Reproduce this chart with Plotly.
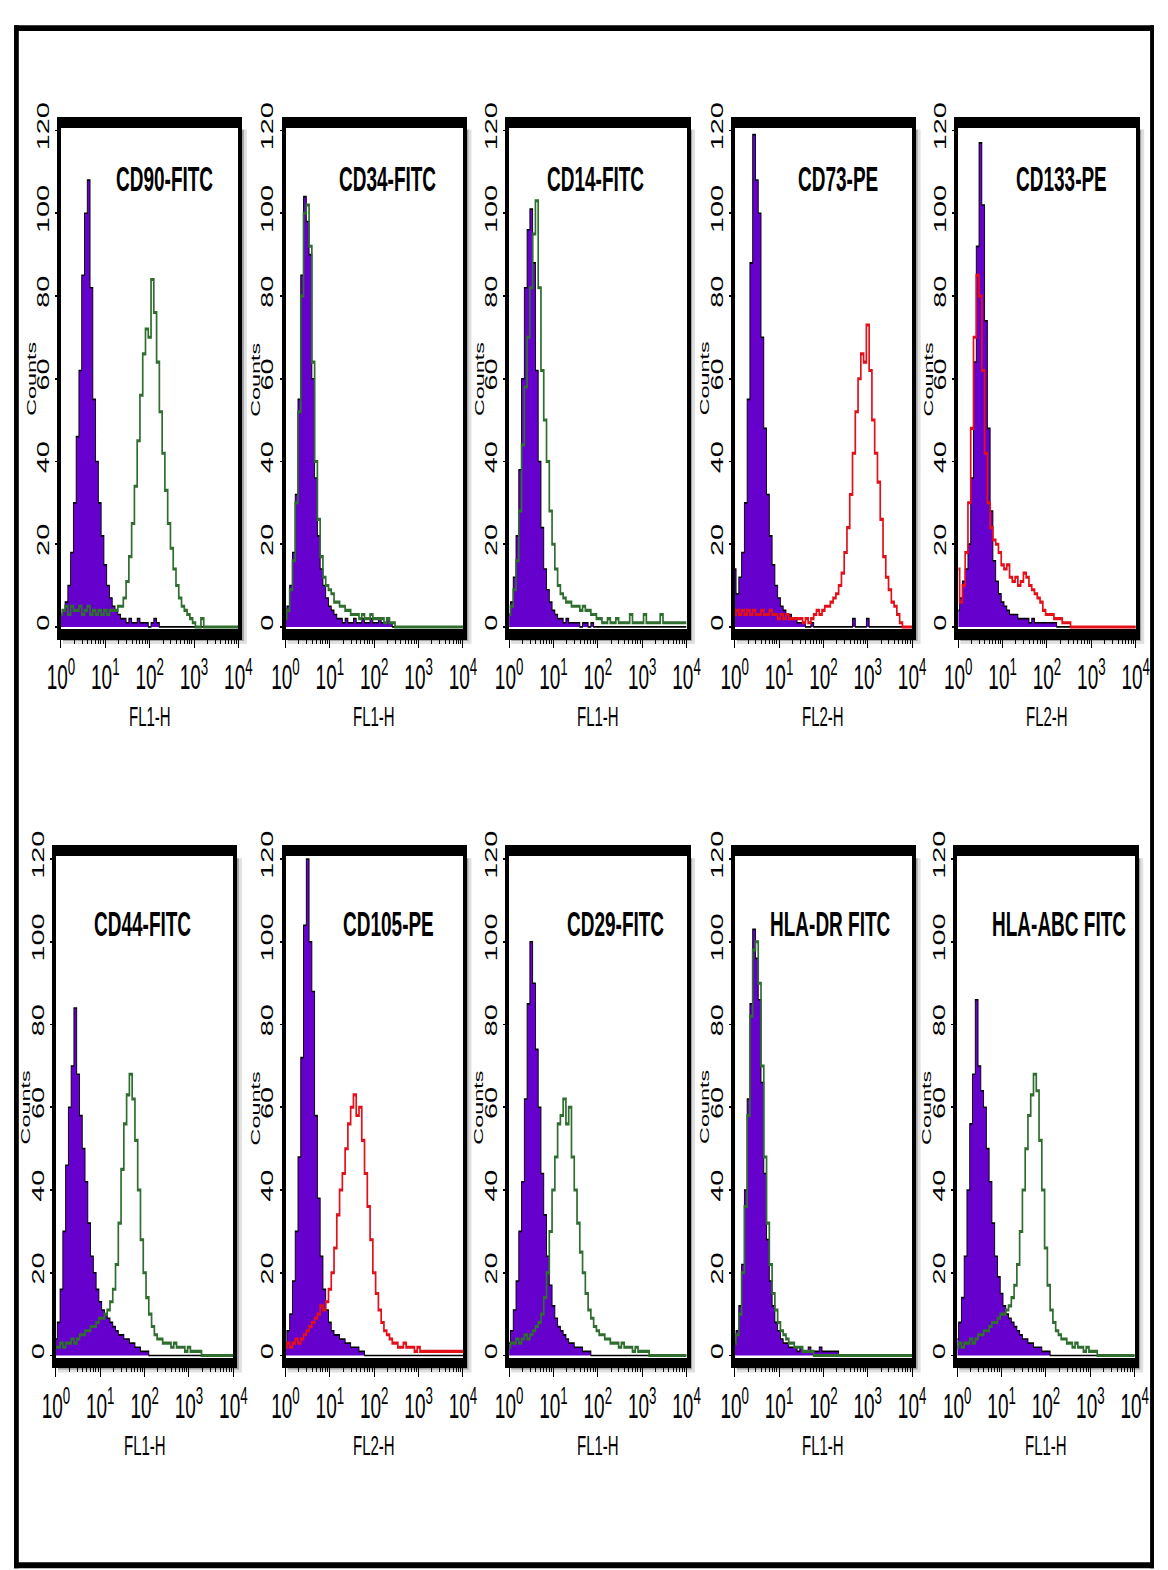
import plotly.graph_objects as go

# ---------------------------------------------------------------------------
# Canvas: the plot is laid out at a reduced height and stretched vertically
# in the page so that text and horizontal strokes get the tall look.
# ---------------------------------------------------------------------------
FIG_W, FIG_H = 1168, 1570
BASE_H = 872
STRETCH = FIG_H / BASE_H

# page placement of the drawing (offset and scale of the photographed page)
PAGE_X0, PAGE_KX = 10.2, 0.9735
PAGE_Y0, PAGE_KY = 24.7, 0.982

# 16 channels per decade over four decades (10^0 .. 10^4)
CHANNEL_DECADE = [c / 16 for c in range(65)]
INTENSITY = [10 ** d for d in CHANNEL_DECADE]

# ---------------------------------------------------------------------------
# Histogram counts per channel (isotype control = filled, stained = line)
# ---------------------------------------------------------------------------
CD90_ISO = [3, 4, 6, 10, 18, 30, 46, 62, 85, 100, 108, 82, 55, 40, 30, 22, 15, 10, 7, 5,
            4, 3, 2, 2, 1, 2, 1, 1, 2, 1, 1, 1, 0, 1, 2, 1, 0, 0, 0, 0,
            0, 0, 0, 0, 0, 0, 0, 0, 0, 0, 0, 0, 0, 0, 0, 0, 0, 0, 0, 0, 0, 0, 0, 0, 0]
CD90_STAIN = [3, 4, 5, 3, 5, 4, 4, 5, 3, 4, 5, 3, 4, 3, 4, 3, 4, 3, 4, 4,
              4, 5, 5, 7, 11, 17, 25, 34, 45, 56, 66, 72, 70, 84, 76, 64, 52, 42, 33, 25,
              19, 14, 10, 7, 5, 4, 3, 2, 1, 0, 0, 2, 0, 0, 0, 0, 0, 0, 0, 0, 0, 0, 0, 0, 0]

CD34_ISO = [2, 5, 10, 18, 32, 55, 85, 104, 98, 90, 60, 36, 22, 14, 10, 7, 5, 4, 3, 2,
            2, 1, 2, 1, 1, 2, 1, 1, 2, 1, 1, 2, 1, 1, 2, 1, 1, 2, 1, 0,
            0, 0, 0, 0, 0, 0, 0, 0, 0, 0, 0, 0, 0, 0, 0, 0, 0, 0, 0, 0, 0, 0, 0, 0, 0]
CD34_STAIN = [2, 4, 9, 16, 30, 52, 80, 100, 102, 92, 64, 40, 26, 17, 12, 10, 9, 8, 6, 6,
              5, 5, 4, 4, 3, 3, 3, 2, 3, 2, 2, 3, 2, 2, 2, 2, 1, 2, 1, 1,
              0, 0, 0, 0, 0, 0, 0, 0, 0, 0, 0, 0, 0, 0, 0, 0, 0, 0, 0, 0, 0, 0, 0, 0, 0]

CD14_ISO = [3, 6, 12, 22, 38, 60, 82, 96, 101, 88, 62, 40, 24, 14, 9, 6, 4, 3, 2, 2,
            1, 2, 1, 1, 1, 1, 0, 1, 1, 0, 1, 0, 0, 0, 0, 0, 0, 0, 0, 0,
            0, 0, 0, 0, 0, 0, 0, 0, 0, 0, 0, 0, 0, 0, 0, 0, 0, 0, 0, 0, 0, 0, 0, 0, 0]
CD14_STAIN = [3, 5, 9, 16, 28, 44, 58, 70, 82, 95, 103, 82, 62, 50, 40, 28, 20, 14, 10, 8,
              7, 6, 6, 5, 5, 5, 4, 5, 4, 4, 3, 3, 2, 2, 1, 1, 2, 1, 1, 2,
              1, 1, 1, 1, 3, 1, 1, 1, 1, 3, 1, 1, 1, 1, 1, 3, 1, 1, 1, 1, 1, 1, 1, 1, 1]

CD73_ISO = [14, 8, 12, 18, 30, 55, 88, 119, 108, 100, 70, 48, 32, 22, 15, 10, 7, 5, 4, 3,
            3, 2, 2, 1, 1, 1, 0, 0, 1, 0, 0, 0, 0, 0, 0, 0, 0, 0, 0, 0,
            0, 0, 0, 2, 0, 0, 0, 0, 2, 0, 0, 0, 0, 0, 0, 0, 0, 0, 0, 0, 0, 0, 0, 0, 0]
CD73_STAIN = [3, 4, 3, 4, 3, 4, 3, 4, 3, 3, 4, 3, 3, 4, 3, 3, 2, 3, 2, 3,
              2, 2, 2, 2, 2, 1, 2, 1, 2, 3, 4, 3, 4, 5, 5, 6, 7, 8, 10, 13,
              18, 24, 32, 42, 52, 60, 66, 64, 73, 62, 50, 42, 35, 26, 17, 12, 9, 6, 5, 3,
              1, 0, 0, 0, 0]

CD133_ISO = [4, 7, 11, 14, 20, 36, 64, 92, 117, 102, 74, 48, 28, 16, 11, 8, 6, 5, 4, 3,
             3, 3, 2, 2, 2, 2, 1, 2, 1, 1, 1, 1, 1, 1, 1, 1, 0, 0, 0, 0,
             0, 0, 0, 0, 0, 0, 0, 0, 0, 0, 0, 0, 0, 0, 0, 0, 0, 0, 0, 0, 0, 0, 0, 0, 0]
CD133_STAIN = [14, 6, 10, 18, 30, 48, 70, 85, 80, 62, 42, 30, 24, 21, 20, 18, 15, 14, 15, 12,
               11, 12, 10, 11, 13, 12, 10, 9, 8, 7, 6, 4, 3, 3, 3, 2, 2, 2, 1, 1,
               1, 0, 0, 0, 0, 0, 0, 0, 0, 0, 0, 0, 0, 0, 0, 0, 0, 0, 0, 0, 0, 0, 0, 0, 0]

CD44_ISO = [4, 8, 16, 30, 46, 60, 70, 84, 68, 58, 50, 42, 32, 24, 20, 16, 13, 11, 10, 9,
            8, 7, 6, 5, 5, 4, 4, 3, 3, 2, 2, 1, 1, 1, 0, 0, 0, 0, 0, 0,
            0, 0, 0, 0, 0, 0, 0, 0, 0, 0, 0, 0, 0, 0, 0, 0, 0, 0, 0, 0, 0, 0, 0, 0, 0]
CD44_STAIN = [2, 2, 3, 2, 3, 3, 4, 3, 4, 5, 5, 6, 6, 7, 7, 8, 9, 9, 10, 11,
              13, 16, 22, 32, 45, 56, 63, 68, 62, 52, 40, 28, 20, 14, 10, 7, 5, 4, 4, 3,
              3, 3, 2, 3, 2, 2, 2, 1, 2, 1, 1, 1, 1, 0, 0, 0, 0, 0, 0, 0, 0, 0, 0, 0, 0]

CD105_ISO = [3, 6, 10, 18, 30, 48, 72, 104, 120, 100, 88, 58, 38, 24, 16, 11, 8, 6, 5, 5,
             4, 4, 3, 3, 2, 2, 2, 1, 1, 0, 0, 0, 0, 0, 0, 0, 0, 0, 0, 0,
             0, 0, 0, 0, 0, 0, 0, 0, 0, 0, 0, 0, 0, 0, 0, 0, 0, 0, 0, 0, 0, 0, 0, 0, 0]
CD105_STAIN = [2, 3, 2, 3, 4, 3, 4, 5, 6, 7, 8, 9, 10, 12, 11, 13, 16, 20, 26, 34,
               40, 44, 50, 56, 60, 63, 58, 60, 52, 44, 36, 28, 20, 15, 11, 8, 6, 5, 4, 3,
               3, 2, 2, 3, 2, 2, 2, 1, 2, 1, 1, 1, 1, 1, 1, 1, 1, 1, 1, 1, 1, 1, 1, 1, 1]

CD29_ISO = [3, 6, 11, 18, 30, 42, 62, 85, 100, 90, 74, 60, 44, 34, 24, 17, 12, 9, 7, 6,
            5, 4, 3, 3, 2, 2, 2, 1, 1, 1, 0, 0, 0, 0, 0, 0, 0, 0, 0, 0,
            0, 0, 0, 0, 0, 0, 0, 0, 0, 0, 0, 0, 0, 0, 0, 0, 0, 0, 0, 0, 0, 0, 0, 0, 0]
CD29_STAIN = [2, 3, 3, 4, 3, 4, 5, 4, 5, 6, 7, 8, 10, 14, 20, 30, 40, 48, 56, 58,
              62, 56, 60, 48, 40, 32, 25, 20, 15, 11, 9, 7, 6, 5, 5, 4, 4, 3, 3, 3,
              2, 3, 2, 2, 2, 1, 2, 1, 1, 1, 1, 0, 0, 0, 0, 0, 0, 0, 0, 0, 0, 0, 0, 0, 0]

HLADR_ISO = [3, 6, 12, 22, 40, 62, 85, 103, 96, 86, 66, 44, 28, 18, 12, 8, 6, 4, 3, 3,
             2, 2, 2, 1, 2, 1, 1, 2, 1, 1, 1, 2, 1, 1, 1, 1, 1, 1, 0, 0,
             0, 0, 0, 0, 0, 0, 0, 0, 0, 0, 0, 0, 0, 0, 0, 0, 0, 0, 0, 0, 0, 0, 0, 0, 0]
HLADR_STAIN = [3, 5, 10, 20, 36, 58, 82, 98, 100, 90, 70, 48, 32, 22, 15, 11, 8, 6, 5, 4,
               3, 3, 2, 2, 2, 1, 1, 1, 1, 0, 0, 0, 0, 0, 0, 0, 0, 0, 0, 0,
               0, 0, 0, 0, 0, 0, 0, 0, 0, 0, 0, 0, 0, 0, 0, 0, 0, 0, 0, 0, 0, 0, 0, 0, 0]

HLAABC_ISO = [4, 8, 14, 24, 40, 56, 68, 86, 70, 64, 60, 50, 42, 32, 24, 19, 15, 12, 10, 9,
              8, 7, 6, 5, 4, 4, 3, 3, 2, 2, 2, 1, 1, 1, 0, 0, 0, 0, 0, 0,
              0, 0, 0, 0, 0, 0, 0, 0, 0, 0, 0, 0, 0, 0, 0, 0, 0, 0, 0, 0, 0, 0, 0, 0, 0]
HLAABC_STAIN = [2, 3, 2, 3, 3, 4, 3, 4, 5, 5, 6, 6, 7, 8, 8, 9, 10, 10, 11, 12,
                14, 17, 22, 30, 40, 50, 58, 63, 68, 64, 52, 40, 26, 17, 11, 8, 6, 5, 4, 4,
                3, 3, 2, 3, 2, 2, 1, 2, 1, 1, 1, 0, 0, 0, 0, 0, 0, 0, 0, 0, 0, 0, 0, 0, 0]

TITLES = ["CD90-FITC", "CD34-FITC", "CD14-FITC", "CD73-PE", "CD133-PE",
          "CD44-FITC", "CD105-PE", "CD29-FITC", "HLA-DR FITC", "HLA-ABC FITC"]
CHANNELS = ["FL1-H", "FL1-H", "FL1-H", "FL2-H", "FL2-H",
            "FL1-H", "FL2-H", "FL1-H", "FL1-H", "FL1-H"]
ISOTYPE = [CD90_ISO, CD34_ISO, CD14_ISO, CD73_ISO, CD133_ISO,
           CD44_ISO, CD105_ISO, CD29_ISO, HLADR_ISO, HLAABC_ISO]
STAINED = [CD90_STAIN, CD34_STAIN, CD14_STAIN, CD73_STAIN, CD133_STAIN,
           CD44_STAIN, CD105_STAIN, CD29_STAIN, HLADR_STAIN, HLAABC_STAIN]

Y_TICKS = [0, 20, 40, 60, 80, 100, 120]
X_TICKS = [1, 10, 100, 1000, 10000]
X_TICKTEXT = ["10<sup>0</sup>", "10<sup>1</sup>", "10<sup>2</sup>", "10<sup>3</sup>", "10<sup>4</sup>"]
X_MINOR = [m * 10 ** k for k in range(4) for m in range(2, 10)]

# ---------------------------------------------------------------------------
# Styling and geometry (target pixels on the photographed page)
# ---------------------------------------------------------------------------
PURPLE = "#6600cc"
GREEN = "#2f6e2f"
RED = "#e3101a"
LINE_COLOR = [GREEN, GREEN, GREEN, RED, RED, GREEN, RED, GREEN, GREEN, GREEN]

PANEL_LEFT = [[57, 281, 504, 729, 952], [52, 281, 504, 729, 951]]
PANEL_W = 177
PANEL_TOP = [127, 855]
PANEL_H = 501
X_LINE_W = 5.5          # bottom / top frame of each panel (before stretch)
Y_LINE_W = 3.5          # left / right frame of each panel
TITLE_X = [160, 383, 590, 832, 1055, 138, 384, 610, 825, 1052]
TITLE_Y = [178, 923]
XTITLE_Y = [715, 1443]
COUNTS_DX = -30

SANS = "Liberation Sans, Arial, sans-serif"


def px_x(x):
    """target page x -> paper fraction"""
    return ((x - PAGE_X0) / PAGE_KX) / FIG_W


def px_y(y):
    """target page y -> paper fraction"""
    return 1 - ((y - PAGE_Y0) / PAGE_KY) / FIG_H


def clamp(v):
    return min(1.0, max(0.0, v))


fig = go.Figure()
layout = dict(
    width=FIG_W, height=BASE_H, margin=dict(l=0, r=0, t=0, b=0),
    paper_bgcolor="white", plot_bgcolor="white", showlegend=False,
    annotations=[], shapes=[],
)

for i in range(10):
    r, c = divmod(i, 5)
    sfx = "" if i == 0 else str(i + 1)
    left = PANEL_LEFT[r][c]
    top = PANEL_TOP[r]
    right = left + PANEL_W
    bottom = top + PANEL_H

    fig.add_trace(go.Scatter(
        x=INTENSITY, y=ISOTYPE[i], mode="lines",
        line=dict(color="black", width=0.9, shape="hvh"),
        fill="tozeroy", fillcolor=PURPLE,
        xaxis="x" + sfx, yaxis="y" + sfx, hoverinfo="skip"))
    fig.add_trace(go.Scatter(
        x=INTENSITY, y=STAINED[i], mode="lines",
        line=dict(color=LINE_COLOR[i], width=1.7, shape="hvh"),
        xaxis="x" + sfx, yaxis="y" + sfx, hoverinfo="skip"))

    layout["xaxis" + sfx] = dict(
        domain=[px_x(left), px_x(right)], anchor="y" + sfx,
        type="log", range=[0, 4], showgrid=False, zeroline=False,
        showline=True, linewidth=X_LINE_W, linecolor="black", mirror=True,
        ticks="outside", ticklen=5, tickwidth=1.4, tickcolor="black",
        tickvals=X_TICKS, ticktext=X_TICKTEXT,
        tickfont=dict(family=SANS, size=19, color="black"),
        minor=dict(ticks="outside", ticklen=2.5, tickwidth=1, tickcolor="black",
                   tickvals=X_MINOR, showgrid=False),
    )
    layout["yaxis" + sfx] = dict(
        domain=[px_y(bottom), px_y(top)], anchor="x" + sfx,
        range=[-0.5, 120.7], showgrid=False, zeroline=False,
        showline=True, linewidth=Y_LINE_W, linecolor="black", mirror=True,
        ticks="outside", ticklen=2, tickwidth=1.2, tickcolor="black",
        tickvals=Y_TICKS, tickangle=-90,
        tickfont=dict(family=SANS, size=16, color="black"),
    )

    # soft drop shadow along the right and bottom edges of the frame
    frame_r = right + Y_LINE_W
    frame_b = bottom + X_LINE_W * STRETCH
    for off, alpha in ((2, 0.28), (5, 0.12)):
        layout["shapes"].append(dict(
            type="rect", xref="paper", yref="paper", layer="below",
            x0=px_x(frame_r), x1=px_x(frame_r + off),
            y0=px_y(frame_b + off), y1=px_y(top + 2),
            fillcolor="rgba(0,0,0,%.2f)" % alpha, line=dict(width=0)))
        layout["shapes"].append(dict(
            type="rect", xref="paper", yref="paper", layer="below",
            x0=px_x(left + 2), x1=px_x(frame_r),
            y0=px_y(frame_b + off), y1=px_y(frame_b),
            fillcolor="rgba(0,0,0,%.2f)" % alpha, line=dict(width=0)))

    layout["annotations"].append(dict(
        text=TITLES[i], xref="paper", yref="paper",
        x=px_x(TITLE_X[i]), y=px_y(TITLE_Y[r]), xanchor="center", yanchor="middle",
        showarrow=False, font=dict(family=SANS, size=19, color="black", weight="bold")))
    layout["annotations"].append(dict(
        text=CHANNELS[i], xref="x" + sfx + " domain", yref="paper",
        x=0.5, y=px_y(XTITLE_Y[r]), xanchor="center", yanchor="middle",
        showarrow=False, font=dict(family=SANS, size=15, color="black")))
    layout["annotations"].append(dict(
        text="Counts", xref="paper", yref="y" + sfx + " domain",
        x=px_x(left + COUNTS_DX), y=0.5, xanchor="center", yanchor="middle",
        textangle=-90, showarrow=False,
        font=dict(family=SANS, size=13, color="black")))

# outer figure frame: heavy left/top edges, light right/bottom edges
FRAME = [
    (6, 5, 15, 1569),
    (6, 5, 1168, 13),
    (1164, 5, 1167, 1569),
    (6, 1566, 1167, 1569),
]
for x0, y0, x1, y1 in FRAME:
    fx0, fx1 = clamp(px_x(x0)), clamp(px_x(x1))
    fy0, fy1 = clamp(px_y(y1)), clamp(px_y(y0))
    if fx1 - fx0 < 4 / FIG_W:
        fx0 = fx1 - 4 / FIG_W if fx1 >= 1 else fx0
        fx1 = fx0 + 4 / FIG_W
    if fy1 - fy0 < 6 / FIG_H:
        fy0 = fy1 - 6 / FIG_H if fy1 >= 1 else fy0
        fy1 = fy0 + 6 / FIG_H
    layout["shapes"].append(dict(
        type="rect", xref="paper", yref="paper",
        x0=fx0, x1=fx1, y0=fy0, y1=fy1,
        fillcolor="black", line=dict(width=0)))

fig.update_layout(**layout)

# stretch the rendered plot vertically inside a fixed-size, clipped page
stretch_js = """
var root = document.documentElement, body = document.body;
[root, body].forEach(function (el) {
    el.style.margin = '0'; el.style.padding = '0'; el.style.overflow = 'hidden';
    el.style.width = '%dpx'; el.style.height = '%dpx';
});
var gd = document.getElementById('{plot_id}');
var wrap = gd.parentNode;
wrap.style.position = 'absolute';
wrap.style.left = '0'; wrap.style.top = '0';
wrap.style.width = '%dpx'; wrap.style.height = '%dpx';
wrap.style.overflow = 'hidden';
gd.style.transformOrigin = '0 0';
gd.style.transform = 'scaleY(%.5f)';
""" % (FIG_W, FIG_H, FIG_W, FIG_H, STRETCH)

fig.write_html("out.html", config={"displayModeBar": False}, post_script=stretch_js)
